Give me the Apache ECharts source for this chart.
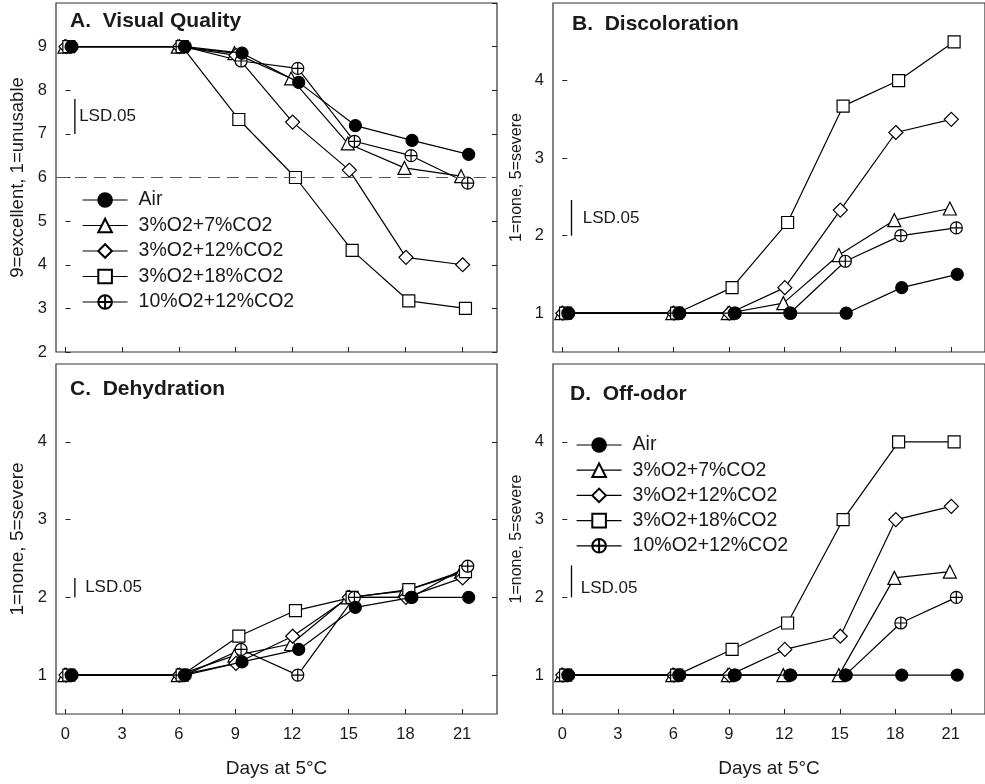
<!DOCTYPE html>
<html>
<head>
<meta charset="utf-8">
<script src="https://cdn.jsdelivr.net/npm/echarts@6/dist/echarts.min.js"></script>
<style>
html,body{margin:0;padding:0;background:#fff;}
#chart{width:985px;height:784px;}
</style>
</head>
<body>
<div id="chart"></div>
<script>
// ---------------- data ----------------
const days = [0, 6, 9, 12, 15, 18, 21];
const dayTicks = [0, 3, 6, 9, 12, 15, 18, 21];
const seriesNames = ['Air', '3%O2+7%CO2', '3%O2+12%CO2', '3%O2+18%CO2', '10%O2+12%CO2'];

// A. Visual Quality
const qualityAir = [9, 9, 8.85, 8.18, 7.19, 6.85, 6.53];
const quality7 = [9, 9, 8.85, 8.27, 6.78, 6.22, 6.03];
const quality12 = [9, 9, 8.8, 7.27, 6.17, 4.17, 4.0];
const quality18 = [9, 9, 7.33, 6.0, 4.33, 3.17, 3.0];
const quality10 = [9, 9, 8.67, 8.5, 6.83, 6.5, 5.87];
const qualityCutoff = 6;

// B. Discoloration
const discAir = [1, 1, 1, 1, 1, 1.33, 1.5];
const disc7 = [1, 1, 1, 1.13, 1.75, 2.2, 2.35];
const disc12 = [1, 1, 1, 1.33, 2.33, 3.33, 3.5];
const disc18 = [1, 1, 1.33, 2.17, 3.67, 4.0, 4.5];
const disc10 = [1, 1, 1, 1, 1.67, 2.0, 2.1];

// C. Dehydration
const dehyAir = [1, 1, 1.17, 1.33, 1.87, 2.0, 2.0];
const dehy7 = [1, 1, 1.25, 1.4, 2.0, 2.08, 2.33];
const dehy12 = [1, 1, 1.15, 1.5, 2.0, 2.0, 2.25];
const dehy18 = [1, 1, 1.5, 1.83, 2.0, 2.1, 2.33];
const dehy10 = [1, 1, 1.33, 1.0, 2.0, 2.0, 2.4];

// D. Off-odor
const odorAir = [1, 1, 1, 1, 1, 1, 1];
const odor7 = [1, 1, 1, 1, 1, 2.25, 2.33];
const odor12 = [1, 1, 1, 1.33, 1.5, 3.0, 3.17];
const odor18 = [1, 1, 1.33, 1.67, 3.0, 4.0, 4.0];
const odor10 = [1, 1, 1, 1, 1, 1.67, 2.0];

// LSD.05 bars [low, high] at day position
const lsdDay = 0.5;
const lsdA = [7.0, 7.8];
const lsdB = [2.0, 2.46];
const lsdC = [2.0, 2.25];
const lsdD = [2.0, 2.41];

const panelTitles = ['A.  Visual Quality', 'B.  Discoloration', 'C.  Dehydration', 'D.  Off-odor'];
const yNames = ['9=excellent, 1=unusable', '1=none, 5=severe', '1=none, 5=severe', '1=none, 5=severe'];
const xName = 'Days at 5°C';

// ---------------- styling ----------------
const FONT = "'Liberation Sans', Arial, Helvetica, sans-serif";
const TXT = '#1a1a1a';
const AX = '#222';
const plusPath = 'path://M2,12A10,10,0,1,1,22,12A10,10,0,1,1,2,12Z M2,12L22,12 M12,2L12,22';
const styles = {
  'Air': {symbol: 'circle', size: 12, fill: '#000', dx: 0.35},
  '3%O2+7%CO2': {symbol: 'triangle', size: 13, fill: '#fff', dx: -0.05},
  '3%O2+12%CO2': {symbol: 'diamond', size: 14, fill: '#fff', dx: 0.03},
  '3%O2+18%CO2': {symbol: 'rect', size: 12, fill: '#fff', dx: 0.18},
  '10%O2+12%CO2': {symbol: plusPath, size: 12, fill: '#fff', dx: 0.3}
};
const drawOrder = ['3%O2+7%CO2', '3%O2+12%CO2', '3%O2+18%CO2', '10%O2+12%CO2', 'Air'];

const panels = [
  {vals: {'Air': qualityAir, '3%O2+7%CO2': quality7, '3%O2+12%CO2': quality12, '3%O2+18%CO2': quality18, '10%O2+12%CO2': quality10}, lsd: lsdA},
  {vals: {'Air': discAir, '3%O2+7%CO2': disc7, '3%O2+12%CO2': disc12, '3%O2+18%CO2': disc18, '10%O2+12%CO2': disc10}, lsd: lsdB},
  {vals: {'Air': dehyAir, '3%O2+7%CO2': dehy7, '3%O2+12%CO2': dehy12, '3%O2+18%CO2': dehy18, '10%O2+12%CO2': dehy10}, lsd: lsdC},
  {vals: {'Air': odorAir, '3%O2+7%CO2': odor7, '3%O2+12%CO2': odor12, '3%O2+18%CO2': odor18, '10%O2+12%CO2': odor10}, lsd: lsdD}
];

const grids = [
  {left: 56, top: 3, width: 441, height: 349},
  {left: 553, top: 3, width: 441, height: 349},
  {left: 56, top: 364, width: 441, height: 350},
  {left: 553, top: 364, width: 441, height: 350}
].map(g => Object.assign(g, {show: true, borderColor: '#333', borderWidth: 1.2, backgroundColor: 'transparent', containLabel: false}));

const xAxes = [0, 1, 2, 3].map(i => {
  const lab = i >= 2;
  return {
    gridIndex: i, type: 'value', min: -0.5, max: 22.85,
    axisLine: {show: false},
    axisTick: {show: true, inside: true, length: 5, customValues: dayTicks, lineStyle: {color: AX, width: 1}},
    axisLabel: {show: lab, customValues: dayTicks, margin: 12, fontSize: 16.5, color: TXT, fontFamily: FONT},
    splitLine: {show: false},
    name: lab ? xName : '', nameLocation: 'middle', nameGap: 45,
    nameTextStyle: {fontSize: 19, color: TXT, fontFamily: FONT}
  };
});

const nameSizes = [18.5, 16, 19, 16];
const nameGaps = [29, 28, 29, 28];
function yAxisFor(i, right) {
  const ax = {
    gridIndex: i, type: 'value', position: right ? 'right' : 'left',
    axisLine: {show: false},
    splitLine: {show: false},
    axisTick: {show: true, inside: true, length: 5, lineStyle: {color: AX, width: 1}},
    axisLabel: {show: !right, margin: 9, fontSize: 16.5, color: TXT, fontFamily: FONT},
    name: right ? '' : yNames[i], nameLocation: 'middle', nameGap: nameGaps[i],
    nameTextStyle: {fontSize: nameSizes[i], color: TXT, fontFamily: FONT}
  };
  if (i === 0) {
    ax.min = 2; ax.max = 10; ax.interval = 1;
    ax.axisLabel.showMaxLabel = false;
  } else {
    ax.min = 0.5; ax.max = 5;
    ax.axisTick.customValues = [1, 2, 3, 4];
    ax.axisLabel.customValues = [1, 2, 3, 4];
  }
  return ax;
}
const yAxes = [yAxisFor(0), yAxisFor(1), yAxisFor(2), yAxisFor(3), yAxisFor(0, true), yAxisFor(2, true)];

const series = [];
panels.forEach((p, i) => {
  drawOrder.forEach(name => {
    const st = styles[name];
    const s = {
      type: 'line', name: name, xAxisIndex: i, yAxisIndex: i,
      data: days.map((d, k) => [d + st.dx, p.vals[name][k]]),
      symbol: st.symbol, symbolSize: st.size, showAllSymbol: true,
      lineStyle: {color: '#000', width: 1.2},
      itemStyle: {color: st.fill, borderColor: '#000', borderWidth: 1.2},
      emphasis: {disabled: true},
      z: name === 'Air' ? 4 : 3,
      animation: false, silent: true
    };
    if (i === 0 && name === 'Air') {
      s.markLine = {
        silent: true, symbol: ['none', 'none'], label: {show: false},
        lineStyle: {type: [12, 7], color: '#555', width: 1.2},
        data: [{yAxis: qualityCutoff}], animation: false
      };
    }
    series.push(s);
  });
  series.push({
    type: 'line', name: 'lsd' + i, xAxisIndex: i, yAxisIndex: i,
    data: [[lsdDay, p.lsd[0]], [lsdDay, p.lsd[1]]],
    symbol: 'none', lineStyle: {color: '#000', width: 1.3},
    silent: true, animation: false
  });
});
const lsdLabelDist = [4, 11, 10, 9];
const lsdLabelDy = [0, 0, 0, 7];
panels.forEach((p, i) => {
  series.push({
    type: 'scatter', name: 'lsdText' + i, xAxisIndex: i, yAxisIndex: i,
    data: [[lsdDay, (p.lsd[0] + p.lsd[1]) / 2]],
    symbol: 'circle', symbolSize: 0.5, itemStyle: {color: '#fff', opacity: 1},
    label: {show: true, position: 'right', distance: lsdLabelDist[i], offset: [0, lsdLabelDy[i]], formatter: 'LSD.05',
      fontSize: 17, color: TXT, opacity: 1, textBorderWidth: 0, fontFamily: FONT},
    emphasis: {disabled: true},
    silent: true, animation: false
  });
});

const titlePos = [[70, 11], [572, 14], [70, 379], [570, 384]];
const titles = panelTitles.map((t, i) => ({
  text: t, left: titlePos[i][0], top: titlePos[i][1], padding: 0,
  textStyle: {fontSize: 21, fontWeight: 'bold', color: TXT, fontFamily: FONT}
}));

const legendCommon = {
  orient: 'vertical', itemWidth: 45, itemHeight: 17, itemGap: 4, data: seriesNames,
  selectedMode: false, padding: 0,
  lineStyle: {width: 1.2, color: '#000'},
  textStyle: {fontSize: 19.5, lineHeight: 21, color: TXT, fontFamily: FONT, padding: [0, 0, 0, 6]}
};
const legends = [
  Object.assign({}, legendCommon, {left: 82, top: 189.5, itemGap: 4.5}),
  Object.assign({}, legendCommon, {left: 576, top: 434.5, itemGap: 4.2})
];

const chart = echarts.init(document.getElementById('chart'), null, {renderer: 'canvas'});
chart.setOption({
  backgroundColor: '#fff',
  animation: false,
  title: titles,
  legend: legends,
  grid: grids,
  xAxis: xAxes,
  yAxis: yAxes,
  series: series
});
</script>
</body>
</html>
